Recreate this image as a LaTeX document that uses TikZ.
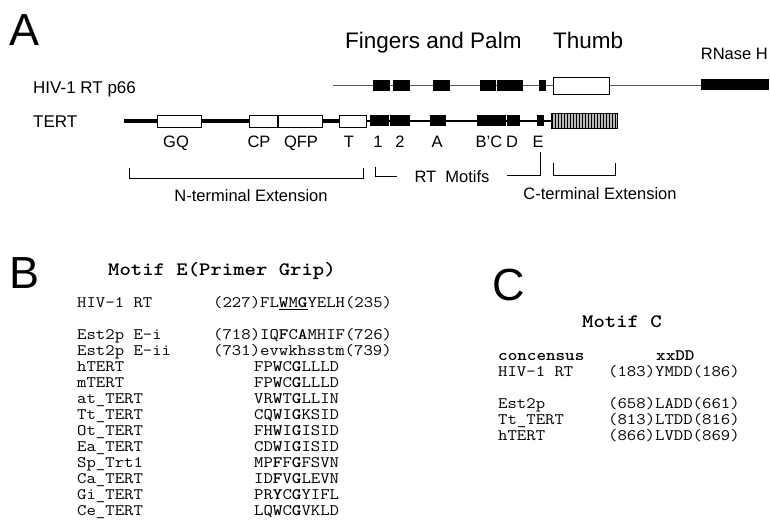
\documentclass[tikz,border=0pt]{standalone}
\usepackage{fontspec}
\setmainfont{Liberation Sans}
\usetikzlibrary{patterns}

\newcommand{\fsz}[1]{\fontsize{#1}{#1}\selectfont}
\newcommand{\sq}[1]{\scalebox{1.14}[1]{#1}}

\begin{document}
\begin{tikzpicture}[x=1pt, y=-1pt,
    dombox/.style={rectangle, draw=black, fill=white, line width=0.9pt,
                   inner sep=0pt, minimum height=12pt},
    motifbox/.style={rectangle, draw=black, fill=black, inner sep=0pt,
                     minimum height=10pt},
    hatchbox/.style={rectangle, draw=black, line width=0.8pt, inner sep=0pt,
                     preaction={fill=gray!55}, pattern=vertical lines,
                     pattern color=black},
    bigletter/.style={anchor=base west, inner sep=0pt, font=\fsz{45}},
    title/.style={anchor=base west, inner sep=0pt, font=\fsz{22.5}},
    lab/.style={anchor=base, inner sep=0pt, font=\fsz{16.5}},
    seq/.style={anchor=base west, inner sep=0pt, font=\fsz{16}\ttfamily},
    head/.style={anchor=base west, inner sep=0pt, font=\fsz{19}\ttfamily\bfseries},
    brk/.style={line width=0.8pt},
  ]
  \useasboundingbox (0,0) rectangle (770,520);

  % Panel A
  \node[bigletter] (pA) at (9,45) {A};
  \node[title] (fp) at (345,48) {Fingers and Palm};
  \node[title] (thumbtxt) at (553,48) {Thumb};
  \node[anchor=base east, inner sep=0pt, font=\fsz{16.5}] (rnasetxt) at (768,59) {RNase H};
  \node[anchor=base west, inner sep=0pt, font=\fsz{17}] (hivtxt) at (33,93) {HIV-1 RT p66};
  \node[anchor=base west, inner sep=0pt, font=\fsz{17}] (terttxt) at (33,127) {TERT};

  % HIV-1 RT p66
  \coordinate (hivL) at (333,85.5);
  \coordinate (hivR) at (701,85.5);
  \draw[gray!70!black, line width=0.9pt] (hivL) -- (hivR);
  \foreach \l/\r [count=\i] in {373/389, 393/409, 433/449, 480/495, 497/506, 507/522, 539/545}
    \node[motifbox, minimum width={(\r-\l)*1pt}] (hm\i) at ({(\l+\r)/2},85.5) {};
  \node[dombox, minimum width=56pt, minimum height=17pt] (thumb) at (581,85.5) {};
  \node[motifbox, minimum width=67pt] (rnase) at (734.5,84) {};

  % TERT
  \coordinate (tertL) at (124,121);
  \coordinate (tertM) at (352,121);
  \coordinate (tertR) at (584,121);
  \draw[line width=3.6pt] (tertL) -- (tertM);
  \draw[line width=1.1pt] (tertM) -- (tertR);
  \foreach \l/\r [count=\i] in {157/201, 249/277, 278/322, 339/366}
    \node[dombox, minimum width={(\r-\l)*1pt}] (td\i) at ({(\l+\r)/2},121) {};
  \foreach \l/\r [count=\i] in {370/388, 390/409, 430/445, 477/492, 493/505, 507/519, 537/543}
    \node[motifbox, minimum width={(\r-\l)*1pt}] (tm\i) at ({(\l+\r)/2},120.5) {};
  \node[hatchbox, minimum width=66pt, minimum height=15pt] (cterm) at (584,120.5) {};

  \foreach \t/\x [count=\i] in {GQ/176, CP/259, QFP/301, T/349, 1/378, 2/400, A/437, B'C/489, D/512, E/538}
    \node[lab] (lb\i) at (\x,147) {\t};

  % Klammern
  \draw[brk] (129,168) -- (129,178) -- (363,178) -- (363,168);
  \node[lab] (ntxt) at (251,201) {N-terminal Extension};
  \draw[brk] (375,167) -- (375,176) -- (397,176);
  \node[lab] (rtxt) at (452,182) {RT\ \ Motifs};
  \draw[brk] (507,175) -- (540,175) -- (540,152);
  \draw[brk] (553,163) -- (553,175) -- (615,175) -- (615,163);
  \node[lab] (ctxt) at (600,199) {C-terminal Extension};

  % Panel B
  \node[bigletter] (pB) at (9,288) {B};
  \node[head] (headE) at (108,275.5) {\sq{Motif E(Primer Grip)}};
  \foreach \n/\s/\x/\y [count=\i] in {
      {HIV-1 RT}/{(227)FL\underline{\textbf{W}M\textbf{G}}YELH(235)}/213/307.5,
      {Est2p E-i}/{(718)IQ\textbf{F}C\textbf{A}MHIF(726)}/213/339.5,
      {Est2p E-ii}/{(731)evwkhsstm(739)}/213/355.5,
      hTERT/{FP\textbf{W}C\textbf{G}LLLD}/254/371.5,
      mTERT/{FP\textbf{W}C\textbf{G}LLLD}/254/387.5,
      at\_TERT/{VR\textbf{W}T\textbf{G}LLIN}/254/403.5,
      Tt\_TERT/{CQ\textbf{W}I\textbf{G}KSID}/254/419.5,
      Ot\_TERT/{FH\textbf{W}I\textbf{G}ISID}/254/435.5,
      Ea\_TERT/{CD\textbf{W}I\textbf{G}ISID}/254/451.5,
      Sp\_Trt1/{MP\textbf{F}F\textbf{G}FSVN}/254/467.5,
      Ca\_TERT/{ID\textbf{F}V\textbf{G}LEVN}/254/483.5,
      Gi\_TERT/{PR\textbf{Y}C\textbf{G}YIFL}/254/499.5,
      Ce\_TERT/{LQ\textbf{W}C\textbf{G}VKLD}/254/515.5} {
    \node[seq] (bn\i) at (77,\y) {\sq{\n}};
    \node[seq] (bs\i) at (\x,\y) {\sq{\s}};
  }

  % Panel C
  \node[bigletter] (pC) at (492,300) {C};
  \node[head] (headC) at (582,327.5) {\sq{Motif C}};
  \node[seq, font=\fsz{16}\ttfamily\bfseries] (cons) at (498,360.5) {\sq{concensus}};
  \node[seq, font=\fsz{16}\ttfamily\bfseries] (xxdd) at (656,360.5) {\sq{xxDD}};
  \foreach \n/\s/\y [count=\i] in {
      {HIV-1 RT}/{(183)YMDD(186)}/376.5,
      Est2p/{(658)LADD(661)}/408.5,
      Tt\_TERT/{(813)LTDD(816)}/424.5,
      hTERT/{(866)LVDD(869)}/440.5} {
    \node[seq] (cn\i) at (498,\y) {\sq{\n}};
    \node[seq] (cs\i) at (608,\y) {\sq{\s}};
  }
\end{tikzpicture}
\end{document}
